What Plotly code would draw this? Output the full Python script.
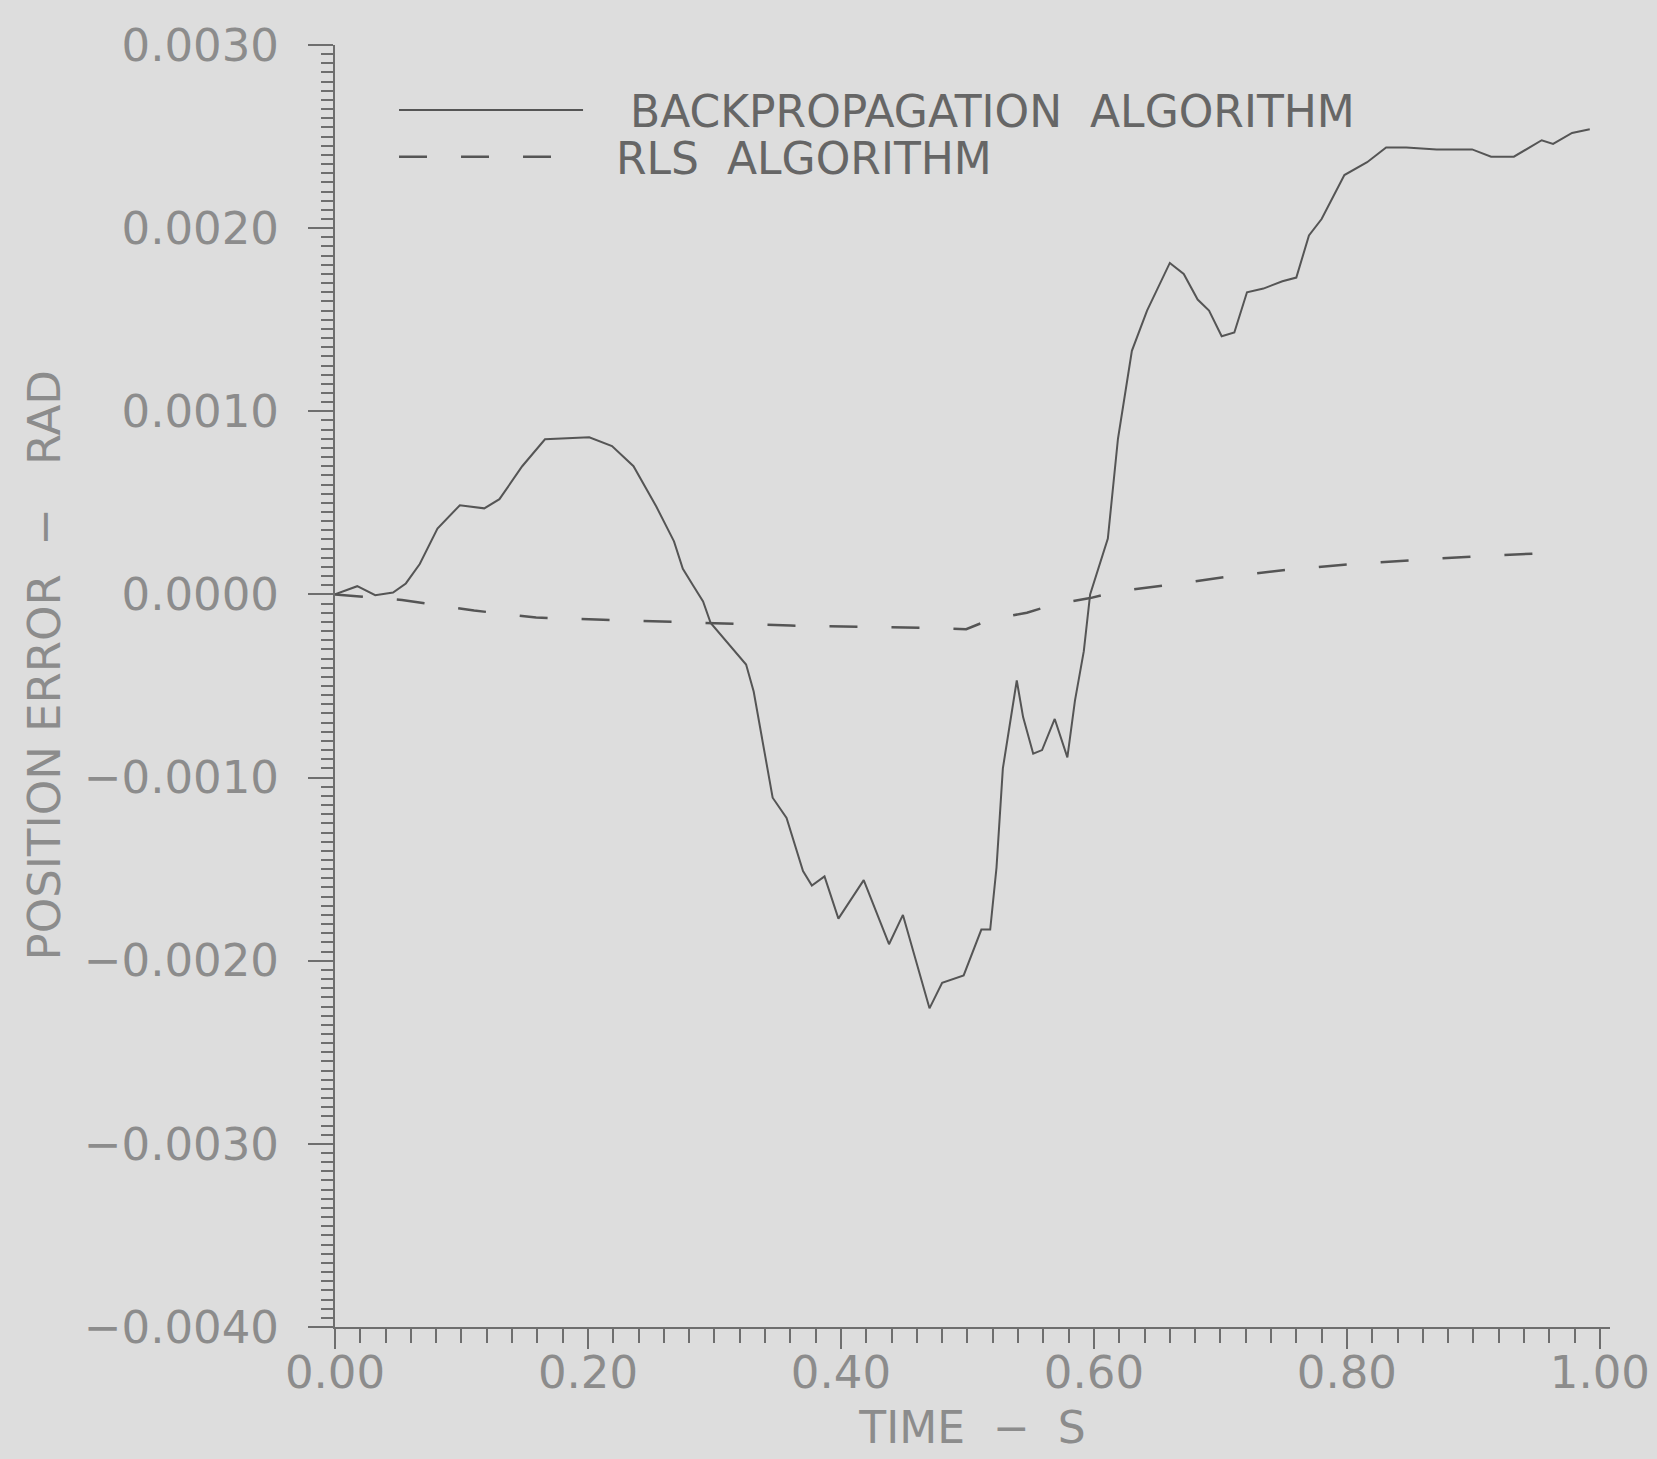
import plotly.graph_objects as go

# ---- data ----
bp_time = [0.0, 0.0176, 0.0318, 0.0459, 0.056, 0.067, 0.081, 0.0987, 0.118, 0.130,
           0.148, 0.166, 0.201, 0.219, 0.236, 0.254, 0.268, 0.275, 0.283, 0.291,
           0.297, 0.325, 0.331, 0.346, 0.357, 0.370, 0.377, 0.387, 0.398, 0.418,
           0.438, 0.449, 0.470, 0.480, 0.497, 0.511, 0.518, 0.523, 0.528, 0.535,
           0.539, 0.544, 0.552, 0.559, 0.569, 0.579, 0.585, 0.592, 0.597, 0.611,
           0.619, 0.630, 0.642, 0.660, 0.671, 0.682, 0.691, 0.701, 0.711, 0.721,
           0.734, 0.749, 0.760, 0.770, 0.780, 0.798, 0.816, 0.831, 0.847, 0.871,
           0.899, 0.914, 0.932, 0.954, 0.963, 0.978, 0.992]
bp_error = [0.0, 0.000045, -0.000004, 0.00001, 0.00006, 0.000166, 0.00036, 0.000487, 0.00047, 0.00052,
            0.0007, 0.000847, 0.000858, 0.00081, 0.0007, 0.00048, 0.00029, 0.00014, 0.00005, -0.000038,
            -0.000156, -0.000383, -0.00053, -0.00111, -0.00122, -0.00151, -0.00159, -0.00154, -0.00177, -0.00156,
            -0.00191, -0.00175, -0.00226, -0.00212, -0.00208, -0.00183, -0.00183, -0.00149, -0.00095, -0.00064,
            -0.00047, -0.00067, -0.00087, -0.00085, -0.00068, -0.00089, -0.00058, -0.00031, 0.0, 0.000305,
            0.00085, 0.00133, 0.00155, 0.00181, 0.00175, 0.00161, 0.00155, 0.00141, 0.00143, 0.00165,
            0.00167, 0.00171, 0.00173, 0.00196, 0.00205, 0.00229, 0.00236, 0.00244, 0.00244, 0.00243,
            0.00243, 0.00239, 0.00239, 0.00248, 0.00246, 0.00252, 0.00254]

rls_time = [0.0, 0.053, 0.110, 0.159, 0.212, 0.264, 0.36, 0.470, 0.499, 0.518,
            0.547, 0.568, 0.597, 0.618, 0.657, 0.709, 0.758, 0.810, 0.859, 0.911,
            0.960, 0.972]
rls_error = [0.0, -0.00003, -0.000088, -0.000126, -0.000138, -0.00015, -0.00017, -0.000183, -0.00019, -0.000137,
             -0.0001, -0.000056, -0.00002, 0.000016, 0.00005, 0.0001, 0.000139, 0.000169, 0.00019, 0.000212,
             0.000226, 0.000228]

NB = "\u00a0"
series_names = ["BACKPROPAGATION  ALGORITHM", "RLS  ALGORITHM"]
x_title = "TIME  \u2212  S"
y_title = "POSITION ERROR" + NB * 2 + "\u2212" + NB * 3 + "RAD"

BG = "#dddddd"
LINE = "#555555"
AX = "#6e6e6e"
TXT = "#8c8c8c"
FONT = "DejaVu Sans"

fig = go.Figure()
fig.add_trace(go.Scatter(x=bp_time, y=bp_error, mode="lines", name=NB * 3 + series_names[0],
                         legend="legend", line=dict(color=LINE, width=2)))
fig.add_trace(go.Scatter(x=rls_time, y=rls_error, mode="lines", name=NB * 2 + series_names[1],
                         legend="legend2", line=dict(color=LINE, width=2.5, dash="28px,34px")))

leg_common = dict(xanchor="left", yanchor="middle", bgcolor="rgba(0,0,0,0)", itemwidth=184,
                  font=dict(family=FONT, size=44, color="#666666"), borderwidth=0)

fig.update_layout(
    width=1657, height=1459,
    margin=dict(l=335, r=47, t=45, b=132, autoexpand=False),
    paper_bgcolor=BG, plot_bgcolor=BG,
    font=dict(family=FONT, color=TXT, size=44),
    showlegend=True,
    legend=dict(x=0.0463, y=0.949, **leg_common),
    legend2=dict(x=0.0463, y=0.9126, **leg_common),
    annotations=[dict(text=y_title, textangle=-90, xref="paper", yref="paper",
                      x=-0.2275, y=0.516, xanchor="center", yanchor="middle",
                      showarrow=False, font=dict(family=FONT, size=45, color=TXT))],
)
fig.update_xaxes(
    range=[0, 1.008], tickmode="linear", tick0=0, dtick=0.2, tickformat=".2f",
    showgrid=False, zeroline=False, showline=True, linecolor=AX, linewidth=2,
    ticks="outside", ticklen=20, tickwidth=2, tickcolor=AX,
    minor=dict(dtick=0.02, ticks="outside", ticklen=14, tickwidth=1.5, tickcolor=AX, showgrid=False),
    tickfont=dict(size=45, color=TXT), ticklabelstandoff=-15,
    title=dict(text=x_title, font=dict(size=44, color=TXT), standoff=14),
)
fig.update_yaxes(
    range=[-0.004, 0.003], tickmode="linear", tick0=0, dtick=0.001, tickformat=".4f",
    showgrid=False, zeroline=False, showline=True, linecolor=AX, linewidth=2,
    ticks="outside", ticklen=25, tickwidth=2, tickcolor=AX,
    minor=dict(dtick=0.00005, ticks="outside", ticklen=12, tickwidth=1.5, tickcolor=AX, showgrid=False),
    tickfont=dict(size=45, color=TXT), ticklabelstandoff=20,
)

fig.write_html(
    "out.html",
    config={"displayModeBar": False},
    post_script="document.body.style.margin='0';document.body.style.background='" + BG + "';",
)
